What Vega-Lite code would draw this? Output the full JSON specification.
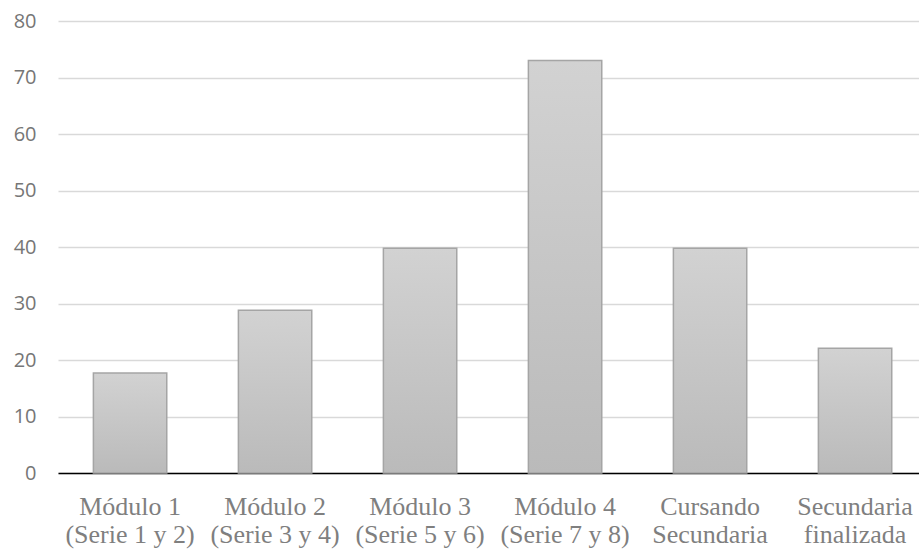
{
  "$schema": "https://vega.github.io/schema/vega-lite/v6.json",
  "width": 861,
  "height": 452,
  "autosize": {"type": "none"},
  "padding": {"left": 58, "top": 21, "right": 0, "bottom": 76},
  "background": "white",
  "config": {"view": {"stroke": null}},
  "data": {
    "values": [
      {"categoria": "Módulo 1|(Serie 1 y 2)", "valor": 17.7},
      {"categoria": "Módulo 2|(Serie 3 y 4)", "valor": 28.8},
      {"categoria": "Módulo 3|(Serie 5 y 6)", "valor": 39.8},
      {"categoria": "Módulo 4|(Serie 7 y 8)", "valor": 73},
      {"categoria": "Cursando|Secundaria", "valor": 39.8},
      {"categoria": "Secundaria|finalizada", "valor": 22.1}
    ]
  },
  "mark": {
    "type": "bar",
    "stroke": "#a5a5a5",
    "strokeWidth": 1.5,
    "color": {
      "gradient": "linear",
      "x1": 0, "y1": 0, "x2": 0, "y2": 1,
      "stops": [
        {"offset": 0, "color": "#d2d2d2"},
        {"offset": 1, "color": "#bababa"}
      ]
    }
  },
  "encoding": {
    "x": {
      "field": "categoria",
      "type": "nominal",
      "sort": null,
      "scale": {"paddingInner": 0.494, "paddingOuter": 0.216, "align": 0.565},
      "axis": {
        "title": null,
        "labelAngle": 0,
        "labelExpr": "split(datum.label, '|')",
        "labelFont": "Liberation Serif",
        "labelFontSize": 26,
        "labelLineHeight": 28,
        "labelColor": "#7f7f7f",
        "labelPadding": 20,
        "labelBaseline": "top",
        "labelOverlap": false,
        "labelBound": false,
        "ticks": false,
        "domainColor": "#000000",
        "domainWidth": 1.5
      }
    },
    "y": {
      "field": "valor",
      "type": "quantitative",
      "scale": {"domain": [0, 80], "nice": false},
      "axis": {
        "title": null,
        "values": [0, 10, 20, 30, 40, 50, 60, 70, 80],
        "domain": false,
        "ticks": false,
        "labelFont": "Open Sans",
        "labelFontSize": 20,
        "labelColor": "#767676",
        "labelPadding": 22,
        "gridColor": "#d9d9d9",
        "gridWidth": 1.5
      }
    }
  }
}
